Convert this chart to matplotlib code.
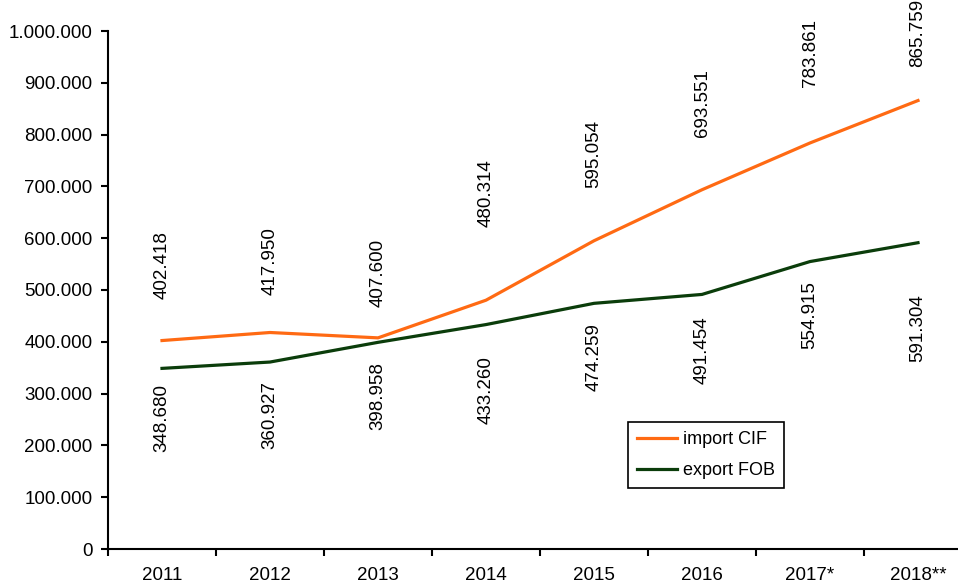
import numpy as np
import matplotlib.pyplot as plt
from matplotlib.ticker import FuncFormatter

plt.rcParams['font.family'] = ['Liberation Sans', 'DejaVu Sans']

# dane
years = ["2011", "2012", "2013", "2014", "2015", "2016", "2017*", "2018**"]
importCIF = [402418, 417950, 407600, 480314, 595054, 693551, 783861, 865759]
exportFOB = [348680, 360927, 398958, 433260, 474259, 491454, 554915, 591304]

# przesuniecia etykiet od punktu (pkt)
impOff = [30, 27, 22, 53, 38, 38, 40, 24]
expOff = [11, 14, 14, 23, 14, 16, 14, 37]

def fmt(v, pos=None):
    return f"{int(v):,}".replace(",", ".")

fig = plt.figure(figsize=(9.58, 5.86), dpi=100)
ax = fig.add_axes([108/958, 37/586, 864/958, 518/586])

x = np.arange(len(years))
ax.plot(x, importCIF, color="#FF6A13", lw=2.3, label="import CIF")
ax.plot(x, exportFOB, color="#0B3D0B", lw=2.3, label="export FOB")

# etykiety danych
for i in range(len(years)):
    ax.annotate(fmt(importCIF[i]), (x[i], importCIF[i]), xytext=(0, impOff[i]),
                textcoords="offset points", rotation=90, ha="center", va="bottom", fontsize=13.5)
    ax.annotate(fmt(exportFOB[i]), (x[i], exportFOB[i]), xytext=(0, -expOff[i]),
                textcoords="offset points", rotation=90, ha="center", va="top", fontsize=13.5)

ax.set_xlim(-0.5, len(years) - 0.5)
ax.set_ylim(0, 1000000)
ax.set_yticks(np.arange(0, 1000001, 100000))
ax.yaxis.set_major_formatter(FuncFormatter(fmt))
ax.set_xticks(x)
ax.set_xticklabels(years)
ax.set_xticks(np.arange(-0.5, len(years), 1), minor=True)
ax.tick_params(axis="x", which="major", length=0, pad=13, labelsize=13.5)
ax.tick_params(axis="x", which="minor", length=5, width=1.5)
ax.tick_params(axis="y", length=5, width=1.5, pad=6, labelsize=13.5)

for s in ["top", "right"]:
    ax.spines[s].set_visible(False)
ax.spines["left"].set_linewidth(1.5)
ax.spines["bottom"].set_linewidth(1.5)

leg = ax.legend(loc="lower left", bbox_to_anchor=(0.602, 0.118), borderaxespad=0,
                fontsize=13, fancybox=False, edgecolor="black", framealpha=1,
                handlelength=2.2, handletextpad=0.35, borderpad=0.5, labelspacing=0.75)
leg.get_frame().set_linewidth(1.2)

fig.savefig("out.png", dpi=100)
